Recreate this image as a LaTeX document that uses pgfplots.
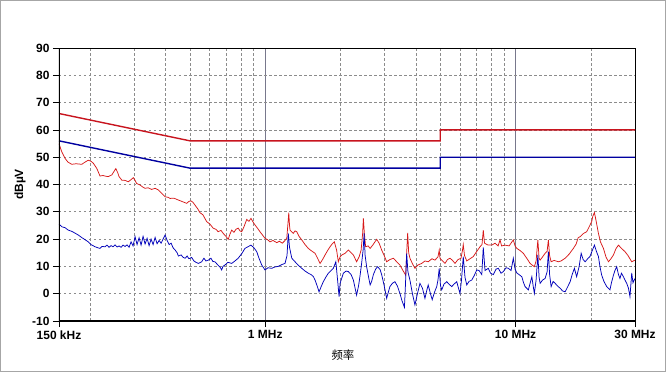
\documentclass[border=0pt]{standalone}
\usepackage{fontspec}
\setmainfont{Liberation Sans}
\newfontfamily\cjk{Noto Sans CJK SC}
\usepackage{pgfplots}
\pgfplotsset{compat=1.18}
\definecolor{limred}{RGB}{200,20,30}
\definecolor{limblue}{RGB}{0,0,160}
\definecolor{trred}{RGB}{215,25,25}
\definecolor{trblue}{RGB}{0,0,185}
\definecolor{gridgray}{RGB}{140,140,140}
\definecolor{majgray}{RGB}{120,120,140}
\begin{document}
\begin{tikzpicture}
\path[use as bounding box] (-59bp,-52bp) rectangle (608bp,321bp);
\draw[gray!70, line width=1bp] (-58.5bp,-50.5bp) rectangle (606.5bp,320.5bp);
\begin{axis}[
  at={(0,0)}, anchor=south west,
  width=576bp, height=273bp, scale only axis,
  xmin=-0.8239, xmax=1.4771, ymin=-10, ymax=90,
  xtick={-0.8239,0,1,1.4771},
  xticklabels={150 kHz,1 MHz,10 MHz,30 MHz},
  minor xtick={-0.6990,-0.5229,-0.3979,-0.3010,-0.2218,-0.1549,-0.0969,-0.0458,0.3010,0.4771,0.6021,0.6990,0.7782,0.8451,0.9031,0.9542,1.3010},
  ytick={-10,0,10,20,30,40,50,60,70,80,90},
  xmajorgrids, xminorgrids, ymajorgrids,
  major x grid style={majgray, line width=0.8bp},
  minor x grid style={gridgray, line width=0.7bp, dash pattern=on 2.5bp off 2.5bp},
  major y grid style={gridgray, line width=0.7bp, dash pattern=on 2.5bp off 2.5bp},
  xtick pos=bottom, ytick pos=left,
  tick align=outside, major tick length=6bp, minor tick length=0pt,
  tick style={black, line width=0.8bp},
  axis line style={black, line width=0.8bp},
  /pgf/number format/assume math mode=true,
  tick label style={font=\bfseries\fontsize{12}{14}\selectfont},
  ylabel={\bfseries\fontsize{12}{14}\selectfont dBµV},
  ylabel style={at={(axis description cs:-0.0677,0.5)}, anchor=center},
  xlabel={\cjk\fontsize{11.5}{13}\selectfont 频率},
  xlabel style={at={(axis description cs:0.493,-0.1245)}, anchor=center},
]
% limit lines
\addplot[limred, line width=1.4bp] coordinates {(-0.8239,66) (-0.3010,56) (0.6990,56) (0.6990,60) (1.4771,60)};
\addplot[limblue, line width=1.4bp] coordinates {(-0.8239,56) (-0.3010,46) (0.6990,46) (0.6990,50) (1.4771,50)};
% peak trace
\addplot[trred, line width=0.75bp] coordinates {
(-0.824,55) (-0.813,52) (-0.800,49.6) (-0.788,48.2) (-0.773,47.4) (-0.756,47.6) (-0.733,47.4) (-0.720,48.2) (-0.707,48.9) (-0.696,48.5)
(-0.687,47.8) (-0.673,45.9) (-0.660,43.1) (-0.648,43.3) (-0.636,43.0) (-0.627,42.9) (-0.613,43.5) (-0.604,44.8) (-0.597,45.8) (-0.590,44.5)
(-0.584,42.9) (-0.573,41.6) (-0.560,41.5) (-0.547,41.0) (-0.536,41.8) (-0.527,42.5) (-0.520,41.5) (-0.514,40.4) (-0.500,39.8) (-0.488,39.0)
(-0.480,38.6) (-0.468,38.8) (-0.454,38.2) (-0.440,38.6) (-0.427,38.0) (-0.416,37.0) (-0.400,35.5) (-0.388,35.3) (-0.380,34.9) (-0.365,35.0)
(-0.347,34.3) (-0.333,33.8) (-0.314,33.1) (-0.305,33.8) (-0.297,34.0) (-0.289,33.5) (-0.281,32.5) (-0.269,31.0) (-0.261,29.7) (-0.249,28.9)
(-0.234,26.4) (-0.221,25.5) (-0.208,24.0) (-0.197,23.6) (-0.188,22.7) (-0.177,23.2) (-0.168,22.1) (-0.157,21.0) (-0.148,19.9) (-0.141,21.8)
(-0.134,23.3) (-0.125,22.5) (-0.117,23.6) (-0.108,24.0) (-0.101,23.0) (-0.094,22.7) (-0.085,24.5) (-0.074,27.2) (-0.065,26.5) (-0.057,27.6)
(-0.049,26.3) (-0.041,25.2) (-0.031,24.0) (-0.021,22.7) (-0.011,21.5) (-0.001,20.3) (0.009,19.8) (0.019,19.0) (0.031,19.5) (0.046,18.7)
(0.057,19.2) (0.068,18.5) (0.077,19.3) (0.086,20.3) (0.091,26) (0.094,29.7) (0.097,25) (0.099,23.3) (0.112,22.1) (0.119,23.0)
(0.126,22.7) (0.135,21.0) (0.146,19.7) (0.159,18.0) (0.172,16.6) (0.183,15.8) (0.199,14.8) (0.209,13.0) (0.219,11.1) (0.229,12.5)
(0.239,14.2) (0.249,15.8) (0.259,17.2) (0.267,18.2) (0.276,19.0) (0.285,16) (0.292,11.7) (0.299,13.5) (0.306,14.2) (0.319,14.8)
(0.332,16.0) (0.343,15.0) (0.352,14.2) (0.365,11.7) (0.375,13.5) (0.383,16.0) (0.389,22) (0.392,27.6) (0.396,22) (0.401,17.2)
(0.411,17.5) (0.419,16.6) (0.431,18) (0.445,19.9) (0.455,18.5) (0.465,16.0) (0.475,14.0) (0.485,11.7) (0.498,12.5) (0.512,13.0)
(0.524,11.8) (0.538,10.5) (0.550,8.5) (0.561,6.8) (0.565,15) (0.569,22.3) (0.573,15) (0.578,13.0) (0.588,11) (0.598,9.3)
(0.610,10.5) (0.625,11.1) (0.638,12.0) (0.651,11.7) (0.666,12.8) (0.678,12.3) (0.690,13.5) (0.695,16) (0.698,13.0) (0.708,12.0)
(0.718,11.1) (0.728,12.5) (0.738,13.0) (0.748,12.2) (0.758,11.1) (0.770,12.5) (0.782,13.0) (0.788,16) (0.791,18) (0.796,14)
(0.805,12.0) (0.818,12.8) (0.831,13.6) (0.845,15.5) (0.858,17.2) (0.866,18.0) (0.871,23.3) (0.876,18.5) (0.890,17.8) (0.905,17.8)
(0.918,18.5) (0.930,17.5) (0.938,19.7) (0.944,17.5) (0.958,17.8) (0.974,17.5) (0.991,19.7) (0.998,17.5) (1.005,16.6) (1.018,15.8)
(1.031,14.8) (1.046,12.8) (1.058,11.1) (1.066,10.5) (1.075,9.9) (1.082,12) (1.089,19.7) (1.094,13) (1.098,12.3) (1.108,13.5)
(1.118,14.8) (1.126,15.5) (1.131,19.7) (1.136,14) (1.142,11.7) (1.154,12.2) (1.171,11.7) (1.182,12.0) (1.198,13.0) (1.214,14.5)
(1.231,16.6) (1.242,18.2) (1.250,20.5) (1.258,20.9) (1.270,22.0) (1.284,22.7) (1.294,24.5) (1.304,26.4) (1.309,28.5) (1.315,29.7)
(1.321,27) (1.331,22.1) (1.339,19) (1.351,16.6) (1.361,13.5) (1.371,11.7) (1.381,12.8) (1.391,14.2) (1.401,16.5) (1.411,17.8)
(1.421,16.8) (1.437,15.4) (1.449,14.0) (1.464,11.7) (1.477,12.3)
};
% average trace
\addplot[trblue, line width=0.75bp] coordinates {
(-0.824,25.5) (-0.812,24.5) (-0.800,24.2) (-0.787,23.3) (-0.772,22.8) (-0.760,22.2) (-0.747,21.5) (-0.732,20.5) (-0.720,19.8) (-0.707,19.0)
(-0.696,18.0) (-0.680,17.2) (-0.668,16.8) (-0.660,16.6) (-0.652,17.3) (-0.640,17.2) (-0.632,17.8) (-0.624,17.0) (-0.616,17.6) (-0.608,17.2)
(-0.600,17.9) (-0.592,17.1) (-0.584,17.5) (-0.576,17.0) (-0.568,17.8) (-0.560,17.3) (-0.552,17.9) (-0.544,17.0) (-0.536,19.0) (-0.528,17.5)
(-0.520,20.9) (-0.512,18.0) (-0.504,20.5) (-0.496,17.8) (-0.488,21.0) (-0.480,18.2) (-0.472,20.3) (-0.464,17.6) (-0.456,20.0) (-0.448,18.0)
(-0.440,20.6) (-0.432,18.3) (-0.424,19.5) (-0.416,18.5) (-0.408,20.0) (-0.400,21.5) (-0.392,19.5) (-0.384,18.0) (-0.376,18.5) (-0.368,16.8)
(-0.360,16.0) (-0.352,15.0) (-0.347,13.8) (-0.336,14.2) (-0.328,13.3) (-0.320,13.0) (-0.312,13.8) (-0.305,12.8) (-0.294,13.3) (-0.285,12.0)
(-0.277,11.5) (-0.267,11.1) (-0.254,11.7) (-0.245,13.0) (-0.237,12.0) (-0.227,12.3) (-0.217,13.0) (-0.209,11.8) (-0.201,11.7) (-0.189,10.5)
(-0.181,9.8) (-0.174,8.7) (-0.169,10.0) (-0.161,10.5) (-0.149,11.5) (-0.134,11.1) (-0.121,12.0) (-0.108,13.0) (-0.093,14.8) (-0.081,16.6)
(-0.069,17.2) (-0.057,17.8) (-0.045,16.8) (-0.034,15.4) (-0.025,13.0) (-0.014,10.5) (-0.001,8.7) (0.011,9.5) (0.026,9.3) (0.039,9.8)
(0.052,10.0) (0.067,10.7) (0.079,11.1) (0.087,14) (0.092,22.1) (0.097,17) (0.106,13.0) (0.119,11.7) (0.131,10.5) (0.146,9.3)
(0.159,8.3) (0.172,7.5) (0.183,7.0) (0.192,6.3) (0.199,5) (0.206,3.2) (0.215,0.7) (0.223,2.5) (0.232,4.4) (0.243,6.2)
(0.252,7.5) (0.263,8.5) (0.272,9.3) (0.282,11.7) (0.289,5) (0.295,-1.1) (0.299,3.8) (0.312,7.5) (0.323,8.3) (0.332,8.1)
(0.343,7.0) (0.352,5.0) (0.359,2) (0.365,-0.5) (0.373,3) (0.379,6.8) (0.385,11.1) (0.391,16) (0.395,22.1) (0.399,14)
(0.405,9.9) (0.413,6) (0.419,3.2) (0.425,4.5) (0.432,7.0) (0.441,9) (0.449,9.9) (0.459,8.8) (0.465,7.0) (0.475,3)
(0.485,-1.7) (0.493,1) (0.498,2.6) (0.508,3.8) (0.518,4.4) (0.528,2.8) (0.538,0.1) (0.546,-2.5) (0.556,-5.0) (0.560,3)
(0.565,14.8) (0.570,8) (0.578,5.0) (0.588,0) (0.598,-4.1) (0.608,0) (0.618,3.8) (0.628,2) (0.638,-1.7) (0.646,1.5)
(0.651,3.2) (0.660,0) (0.667,-2.2) (0.676,0.5) (0.685,2.6) (0.690,5) (0.695,9.3) (0.700,3) (0.705,1.4) (0.714,3.5)
(0.725,4.4) (0.734,3.5) (0.745,2.6) (0.754,3.5) (0.765,4.4) (0.772,2) (0.778,0.1) (0.784,5) (0.791,13.6) (0.798,6)
(0.805,3.2) (0.814,4.5) (0.825,5.0) (0.834,6.5) (0.845,8.7) (0.854,8.5) (0.865,7.0) (0.871,17) (0.878,8.5) (0.891,9.3)
(0.900,7.5) (0.911,7.0) (0.922,9.0) (0.931,9.3) (0.942,7.5) (0.951,8.1) (0.962,9.5) (0.971,9.3) (0.982,8.5) (0.991,13.0)
(0.998,9) (1.005,7.6) (1.014,7.0) (1.025,6.2) (1.032,4) (1.038,2.6) (1.051,1.4) (1.065,6.2) (1.070,3) (1.075,0.1)
(1.082,5) (1.089,14.2) (1.094,6) (1.098,3.8) (1.108,5.0) (1.118,5.6) (1.126,8) (1.131,15.4) (1.136,7) (1.142,2.6)
(1.150,4.5) (1.158,3.8) (1.168,2.8) (1.178,2.0) (1.188,1.0) (1.198,0.7) (1.208,2.5) (1.218,4.4) (1.226,7) (1.235,9.3)
(1.244,6.2) (1.254,10) (1.262,14.8) (1.270,12.5) (1.278,11.7) (1.288,12.8) (1.297,13.6) (1.305,15.5) (1.315,17.8) (1.323,15.5)
(1.331,13.6) (1.337,10) (1.344,6.8) (1.353,4.5) (1.364,2.6) (1.371,2.0) (1.377,1.4) (1.383,4) (1.391,6.8) (1.397,8.5)
(1.404,9.9) (1.411,7) (1.417,5.6) (1.423,7.5) (1.431,6.2) (1.437,5.0) (1.444,3.8) (1.451,2) (1.457,-1.1) (1.464,7.6)
(1.469,4) (1.477,5.6)
};
\draw[black, line width=1.6bp] (rel axis cs:0,1) -- (rel axis cs:0,0) -- (rel axis cs:1,0);
\end{axis}
\end{tikzpicture}
\end{document}
